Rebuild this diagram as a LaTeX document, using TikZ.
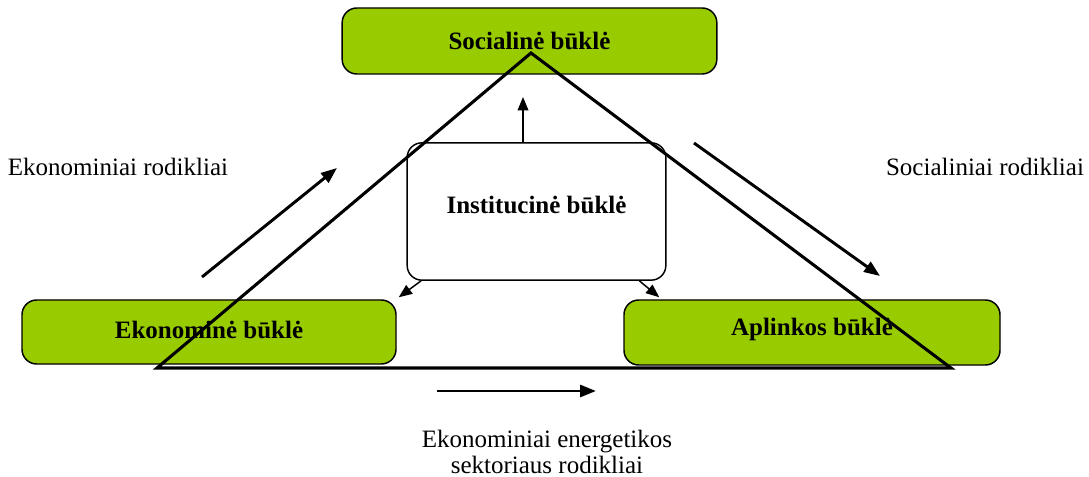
\documentclass[tikz,border=0pt]{standalone}
\usepackage{fontspec}
\setmainfont{Liberation Serif}
\usepackage{tikz}
\usetikzlibrary{arrows.meta,positioning,calc}
\definecolor{boxgreen}{HTML}{99CC00}

\begin{document}
\begin{tikzpicture}[x=0.75pt,y=-0.75pt,
    font=\fontsize{18.75}{19.5}\selectfont,
    state/.style={draw, line width=1.1pt, rounded corners=11pt, fill=boxgreen,
        font=\fontsize{18.75}{22}\selectfont\bfseries, inner sep=0pt},
    thinarrow/.style={line width=1.1pt, -{Triangle[length=10pt,width=8pt]}},
    thickarrow/.style={line width=2.2pt, -{Triangle[length=12pt,width=9pt]}}]
    \useasboundingbox (0,0) rectangle (1089,477);

    \node[state, minimum width=281pt, minimum height=49.5pt] (social) at (529.5,41) {Socialinė būklė};
    \node[state, minimum width=280.5pt, minimum height=48pt] (econ) at (209,332) {};
    \node[state, minimum width=282pt, minimum height=48.75pt] (env) at (812,332.5) {};
    \node[font=\fontsize{18.75}{22}\selectfont\bfseries] at (209,330) {Ekonominė būklė};
    \node[font=\fontsize{18.75}{22}\selectfont\bfseries] at (812,329) {Aplinkos būklė};
    \node[state, fill=white, minimum width=194pt, minimum height=103pt] (inst) at (536.5,211.5) {};
    \node[font=\fontsize{18.75}{22}\selectfont\bfseries] at (536.5,205) {Institucinė būklė};

    % trikampis
    \coordinate (top) at (531,53);
    \coordinate (left) at (157,368);
    \coordinate (right) at (951,368);
    \draw[line width=2.3pt, line join=miter] (top) -- (right) -- (left) -- cycle;

    % institucinės būklės rodyklės
    \coordinate (socArrow) at (523,97);
    \draw[thinarrow] (inst.north -| socArrow) -- (socArrow);
    \draw[thinarrow] (inst.211) -- ([shift={(2,-2)}]econ.north east);
    \draw[thinarrow] (inst.326.5) -- ([shift={(36,-2)}]env.north west);

    % rodikliai
    \coordinate (ecoA) at (202,277);
    \coordinate (ecoB) at (337,168);
    \coordinate (socA) at (694,143);
    \coordinate (socB) at (880,276);
    \coordinate (enA) at (437,391);
    \coordinate (enB) at (596,391);
    \draw[thickarrow] (ecoA) -- (ecoB);
    \draw[thickarrow] (socA) -- (socB);
    \draw[thickarrow] (enA) -- (enB);

    \node (ecoLabel) at (118,167) {Ekonominiai rodikliai};
    \node (socLabel) at (985,167) {Socialiniai rodikliai};
    \node[align=center, inner sep=0pt] (enLabel) at (547,452) {Ekonominiai energetikos\\sektoriaus rodikliai};
\end{tikzpicture}
\end{document}
